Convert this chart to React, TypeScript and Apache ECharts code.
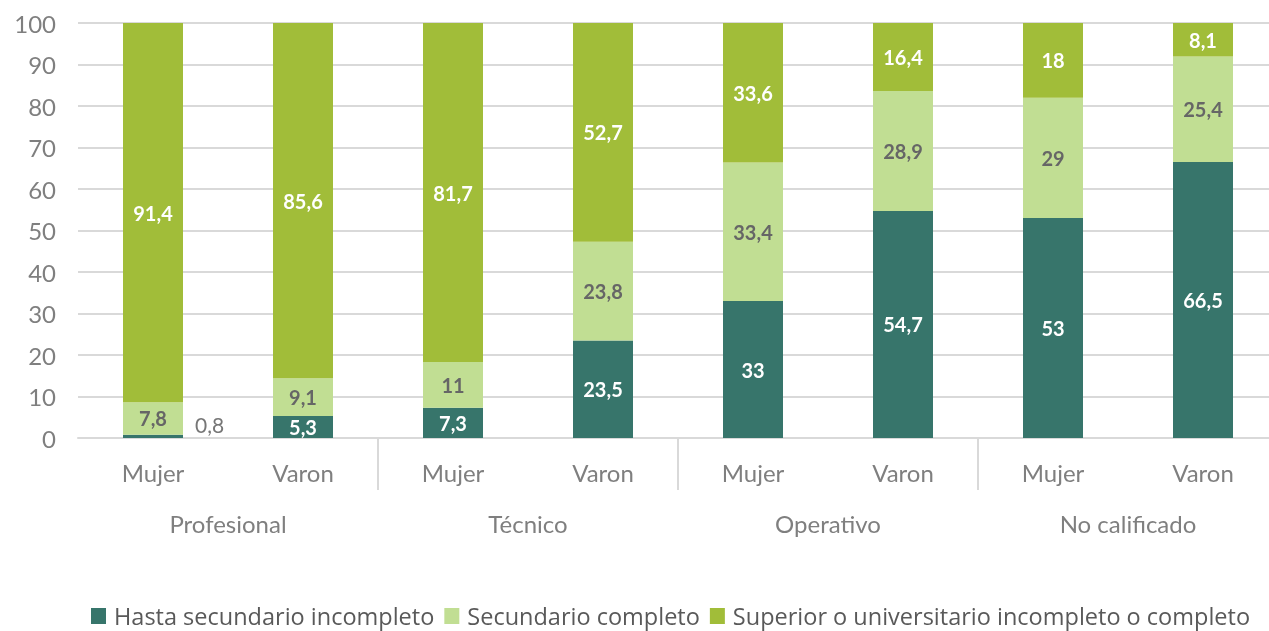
import React, { useEffect, useRef } from "react";
import * as echarts from "echarts";

const subCategories = ["Mujer", "Varon", "Mujer", "Varon", "Mujer", "Varon", "Mujer", "Varon"];
const groups = ["Profesional", "Técnico", "Operativo", "No calificado"];
const seriesNames = [
  "Hasta secundario incompleto",
  "Secundario completo",
  "Superior o universitario incompleto o completo",
];
const hastaSecundario = [0.8, 5.3, 7.3, 23.5, 33, 54.7, 53, 66.5];
const secundarioCompleto = [7.8, 9.1, 11, 23.8, 33.4, 28.9, 29, 25.4];
const superior = [91.4, 85.6, 81.7, 52.7, 33.6, 16.4, 18, 8.1];
const colors = ["#37756B", "#C1DE93", "#A1BD39"];
const labelColors = ["#ffffff", "#666666", "#ffffff"];

const fmt = (p: any) => String(p.value).replace(".", ",");

export default function App() {
  const ref = useRef<HTMLDivElement>(null);
  useEffect(() => {
    if (!ref.current) return;
    const chart = echarts.init(ref.current, null, { renderer: "svg" });
    const values = [hastaSecundario, secundarioCompleto, superior];
    const series = values.map((arr, si) => ({
      name: seriesNames[si],
      type: "bar",
      stack: "total",
      xAxisIndex: 0,
      barWidth: 60,
      itemStyle: { color: colors[si] },
      label: {
        show: true,
        position: "inside",
        formatter: fmt,
        color: labelColors[si],
        fontFamily: "Lato",
        fontWeight: "bold",
        fontSize: 20,
      },
      data: arr.map((v) =>
        v < 2
          ? {
              value: v,
              label: {
                position: "right",
                distance: 12,
                offset: [0, -12],
                color: "#767676",
                fontWeight: "normal",
                fontSize: 21,
              },
            }
          : v
      ),
    }));
    chart.setOption({
      animation: false,
      textStyle: { fontFamily: "Lato" },
      grid: { left: 78, top: 23, width: 1200, height: 415 },
      legend: {
        top: 604,
        left: 91,
        padding: 0,
        itemWidth: 15,
        itemHeight: 16,
        itemGap: 10,
        icon: "rect",
        textStyle: {
          fontFamily: "Open Sans",
          fontSize: 23.5,
          color: "#595959",
          padding: [0, 0, 0, 3],
        },
        data: seriesNames,
      },
      xAxis: [
        {
          type: "category",
          data: subCategories,
          axisLine: { lineStyle: { color: "#d9d9d9", width: 2 } },
          axisTick: { show: false },
          axisLabel: { fontSize: 24, color: "#7f7f7f", margin: 22, fontFamily: "Lato" },
        },
        {
          type: "category",
          data: groups,
          position: "bottom",
          axisLine: { show: false },
          axisTick: {
            show: true,
            length: 52,
            lineStyle: { color: "#d9d9d9", width: 2 },
            interval: (i: number) => i > 0,
          },
          axisLabel: { fontSize: 24, color: "#7f7f7f", margin: 73, fontFamily: "Lato" },
        },
      ],
      yAxis: {
        type: "value",
        min: 0,
        max: 100,
        interval: 10,
        axisLine: { show: false },
        axisTick: { show: false },
        axisLabel: { fontSize: 24, color: "#7f7f7f", margin: 22, fontFamily: "Lato" },
        splitLine: { lineStyle: { color: "#d9d9d9", width: 2 } },
      },
      series,
    });
    return () => chart.dispose();
  }, []);
  return (
    <div
      ref={ref}
      style={{ position: "fixed", left: 0, top: 0, width: 1290, height: 631 }}
    />
  );
}
